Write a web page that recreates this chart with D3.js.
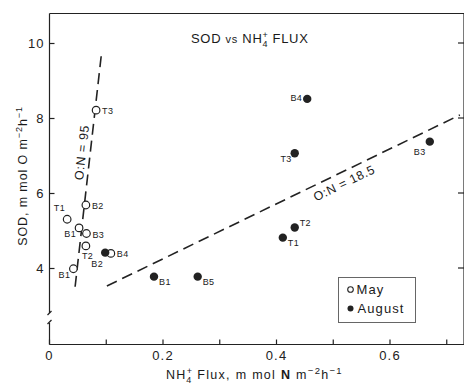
<!DOCTYPE html>
<html>
<head>
<meta charset="utf-8">
<script src="https://cdn.jsdelivr.net/npm/d3@7"></script>
<style>
  body { margin: 0; background: #fff; }
  svg { font-family: "Liberation Sans", Arial, sans-serif; fill: #1a1a1a; }
</style>
</head>
<body>
<svg id="chart" width="464" height="389"></svg>
<script>
// values
var mayStations = ["T3", "B2", "T1", "B1", "B3", "T2", "B4", "B1"];
var mayFlux     = [0.083, 0.065, 0.032, 0.053, 0.066, 0.065, 0.109, 0.043];
var maySOD      = [8.21, 5.68, 5.30, 5.07, 4.92, 4.59, 4.39, 3.98];

var augStations = ["B2", "B1", "B5", "T1", "T2", "T3", "B4", "B3"];
var augFlux     = [0.099, 0.185, 0.262, 0.412, 0.433, 0.433, 0.455, 0.671];
var augSOD      = [4.41, 3.77, 3.77, 4.81, 5.08, 7.06, 8.51, 7.37];

// O:N reference lines (end points)
var line95   = [[0.046, 3.50], [0.093, 9.79]];
var line18_5 = [[0.102, 3.52], [0.724, 8.08]];

var xTicks = [0, 0.1, 0.2, 0.3, 0.4, 0.5, 0.6, 0.7];
var xTickLabels = [0, 0.2, 0.4, 0.6];
var yTicks = [4, 6, 8, 10];

// where each station label sits relative to its marker
var mayPlace = ["r", "r", "ul", "bl", "r", "b", "r", "bl"];
var augPlace = ["bl2", "br", "br", "br", "ur", "bl", "l", "bl3"];

var svg = d3.select("#chart");
var x = d3.scaleLinear().domain([0, 0.7]).range([49, 446.25]);
var y = d3.scaleLinear().domain([4, 10]).range([268, 43]);
var axisY = 344.5, leftX = 49.5, topY = 13.5, rightX = 464.5;
var ink = "#222";

// frame top and right
svg.append("line").attr("x1", leftX).attr("x2", rightX).attr("y1", topY).attr("y2", topY)
  .attr("stroke", ink).attr("stroke-width", 1.2);
svg.append("line").attr("x1", rightX - 0.5).attr("x2", rightX - 0.5).attr("y1", topY).attr("y2", axisY)
  .attr("stroke", ink).attr("stroke-width", 1.2);
yTicks.forEach(function(v) {
  svg.append("line").attr("x1", 458).attr("x2", rightX).attr("y1", y(v)).attr("y2", y(v))
    .attr("stroke", ink).attr("stroke-width", 1.2);
});

// left axis, broken below 4
var yAxis = svg.append("g").attr("transform", "translate(" + leftX + ",0)")
  .call(d3.axisLeft(y).tickValues(yTicks).tickSize(-5).tickPadding(5).tickFormat(d3.format("d")));
yAxis.select(".domain").remove();
yAxis.selectAll("line").attr("stroke", ink).attr("stroke-width", 1.2);
yAxis.selectAll("text").attr("font-size", 13).attr("fill", ink).attr("letter-spacing", 1)
  .attr("font-family", "Liberation Sans, Arial, sans-serif");
svg.append("line").attr("x1", leftX).attr("x2", leftX).attr("y1", topY).attr("y2", 313)
  .attr("stroke", ink).attr("stroke-width", 1.2);
svg.append("line").attr("x1", leftX).attr("x2", leftX).attr("y1", 323).attr("y2", axisY)
  .attr("stroke", ink).attr("stroke-width", 1.2);
[313, 322].forEach(function(b) {
  svg.append("line").attr("x1", leftX - 2).attr("x2", leftX + 2).attr("y1", b + 2).attr("y2", b - 2)
    .attr("stroke", ink).attr("stroke-width", 1.2);
});

// bottom axis
var xAxis = svg.append("g").attr("transform", "translate(0," + axisY + ")")
  .call(d3.axisBottom(x).tickValues(xTicks).tickSize(-5).tickPadding(6)
    .tickFormat(function(d) { return xTickLabels.indexOf(d) >= 0 ? d3.format("")(d) : ""; }));
xAxis.select(".domain").remove();
xAxis.selectAll("line").attr("stroke", ink).attr("stroke-width", 1.2);
xAxis.selectAll("text").attr("font-size", 13).attr("fill", ink).attr("letter-spacing", 1.2)
  .attr("font-family", "Liberation Sans, Arial, sans-serif");
svg.append("line").attr("x1", leftX).attr("x2", rightX).attr("y1", axisY).attr("y2", axisY)
  .attr("stroke", ink).attr("stroke-width", 1.2);

// O:N dashed lines
function dashLine(pts) {
  svg.append("line")
    .attr("x1", x(pts[0][0])).attr("y1", y(pts[0][1]))
    .attr("x2", x(pts[1][0])).attr("y2", y(pts[1][1]))
    .attr("stroke", ink).attr("stroke-width", 1.6).attr("stroke-dasharray", "11,6");
}
dashLine(line95);
dashLine(line18_5);

function angleOf(pts) {
  return Math.atan2(y(pts[1][1]) - y(pts[0][1]), x(pts[1][0]) - x(pts[0][0])) * 180 / Math.PI;
}
svg.append("text").attr("transform", "translate(86,153) rotate(" + angleOf(line95) + ")")
  .attr("text-anchor", "middle").attr("font-size", 12.5).attr("letter-spacing", 0.6).text("O:N = 95");
svg.append("text").attr("transform", "translate(346,187) rotate(" + angleOf(line18_5) + ")")
  .attr("text-anchor", "middle").attr("font-size", 12.5).attr("letter-spacing", 0.6).text("O:N = 18.5");

// points
function labelAt(px, py, place, txt) {
  var o = {
    r:   [6, 4, "start"],   l:   [-5, 2, "end"],
    ul:  [-2, -8, "end"],   bl:  [-3, 9, "end"],
    b:   [-4, 13, "start"], br:  [5, 8, "start"],
    ur:  [5, -2, "start"],  bl2: [-2, 14, "end"],
    bl3: [-16, 13, "start"]
  }[place];
  svg.append("text").attr("x", px + o[0]).attr("y", py + o[1])
    .attr("text-anchor", o[2]).attr("font-size", 9).attr("letter-spacing", 0.4).text(txt);
}

mayFlux.forEach(function(f, i) {
  var px = x(f), py = y(maySOD[i]);
  svg.append("circle").attr("cx", px).attr("cy", py).attr("r", 3.8)
    .attr("fill", "#fff").attr("stroke", ink).attr("stroke-width", 1.2);
  labelAt(px, py, mayPlace[i], mayStations[i]);
});
augFlux.forEach(function(f, i) {
  var px = x(f), py = y(augSOD[i]);
  svg.append("circle").attr("cx", px).attr("cy", py).attr("r", 4.2).attr("fill", ink);
  labelAt(px, py, augPlace[i], augStations[i]);
});

// title
var title = svg.append("text").attr("x", 191).attr("y", 43).attr("font-size", 13)
  .attr("letter-spacing", 0.7);
title.append("tspan").text("SOD ");
title.append("tspan").attr("font-size", 11).text("vs");
title.append("tspan").text(" NH");
title.append("tspan").attr("font-size", 9).attr("dy", -5).text("+");
title.append("tspan").attr("font-size", 9).attr("dx", -6).attr("dy", 9).text("4");
title.append("tspan").attr("dy", -4).text(" FLUX");

// legend
var lg = svg.append("g").attr("transform", "translate(338.5,277.5)");
lg.append("rect").attr("width", 77).attr("height", 45).attr("fill", "#fff")
  .attr("stroke", "#666").attr("stroke-width", 1);
lg.append("circle").attr("cx", 12).attr("cy", 12).attr("r", 2.8)
  .attr("fill", "#fff").attr("stroke", ink).attr("stroke-width", 1.1);
lg.append("text").attr("x", 18).attr("y", 16.5).attr("font-size", 13).attr("letter-spacing", 1.1).text("May");
lg.append("circle").attr("cx", 12).attr("cy", 31).attr("r", 3).attr("fill", ink);
lg.append("text").attr("x", 19).attr("y", 35.5).attr("font-size", 13).attr("letter-spacing", 1.1).text("August");

// axis titles
var yl = svg.append("text").attr("transform", "translate(27,176) rotate(-90)")
  .attr("text-anchor", "middle").attr("font-size", 12.5).attr("letter-spacing", 0.9);
yl.append("tspan").text("SOD, m mol O  m");
yl.append("tspan").attr("font-size", 9).attr("dy", -5).text("\u22122");
yl.append("tspan").attr("dy", 5).text("h");
yl.append("tspan").attr("font-size", 9).attr("dy", -5).text("\u22121");

var xl = svg.append("text").attr("x", 166).attr("y", 379).attr("font-size", 12.5)
  .attr("letter-spacing", 1.3);
xl.append("tspan").text("NH");
xl.append("tspan").attr("font-size", 9).attr("dy", -5).text("+");
xl.append("tspan").attr("font-size", 9).attr("dx", -7).attr("dy", 9).text("4");
xl.append("tspan").attr("dy", -4).text(" Flux, m mol ");
xl.append("tspan").attr("font-weight", "bold").text("N");
xl.append("tspan").text(" m");
xl.append("tspan").attr("font-size", 9.5).attr("dy", -5).text("\u22122");
xl.append("tspan").attr("dy", 5).text("h");
xl.append("tspan").attr("font-size", 9.5).attr("dy", -5).text("\u22121");
</script>
</body>
</html>
